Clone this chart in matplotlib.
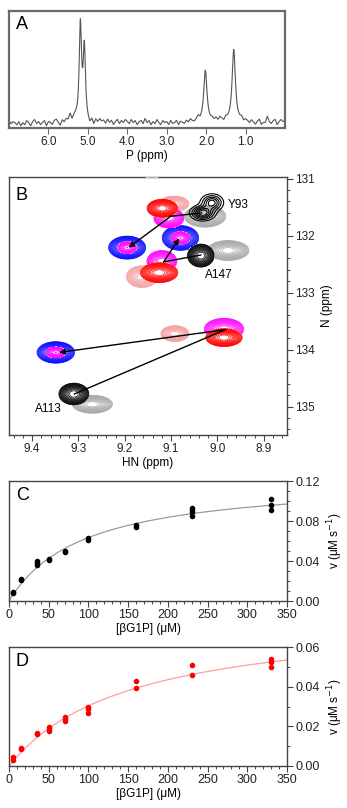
import numpy as np
import matplotlib
matplotlib.use('Agg')
import matplotlib.pyplot as plt
from matplotlib.ticker import MultipleLocator, FormatStrFormatter

plt.rcParams['font.family'] = ['Liberation Sans', 'DejaVu Sans']
plt.rcParams['font.size'] = 8.5

# ---- panel A: 1D spectrum, peaks + baseline noise (0.05 ppm steps, 7.0 -> 0.0)
p_peak_ppm = [5.19, 5.09, 2.02, 1.30]
p_peak_height = [0.92, 0.69, 0.50, 0.70]
p_peak_hwhm = [0.035, 0.035, 0.05, 0.05]
p_noise = [0.02, -0.01, 0.01, 0.00, -0.02, 0.01, -0.03, 0.00, -0.02, 0.02,
           0.00, -0.03, 0.01, 0.03, -0.01, 0.01, -0.02, 0.00, 0.02, -0.03,
           0.01, 0.00, -0.02, 0.02, 0.03, 0.00, -0.03, 0.02, 0.00, 0.03,
           0.02, 0.07, 0.01, 0.04, 0.03, 0.00, 0.00, 0.00, 0.00, 0.00,
           -0.02, -0.04, 0.01, -0.03, 0.02, 0.00, 0.03, 0.01, 0.02, -0.01,
           0.03, 0.00, 0.02, -0.02, 0.01, 0.03, -0.01, 0.02, 0.00, 0.03,
           0.01, -0.01, 0.03, 0.00, 0.02, -0.02, 0.01, 0.02, -0.01, 0.04,
           0.00, 0.02, -0.02, 0.01, -0.01, 0.03, 0.00, -0.02, 0.02, 0.00,
           0.01, -0.02, 0.02, -0.01, 0.00, 0.02, -0.02, 0.01, 0.00, -0.01,
           0.02, 0.00, 0.03, 0.01, 0.00, 0.02, 0.04, 0.00, 0.00, 0.00,
           0.00, 0.00, 0.00, 0.02, 0.01, 0.03, 0.01, 0.04, 0.02, 0.00,
           0.03, 0.01, 0.00, 0.00, 0.00, 0.00, 0.00, 0.01, 0.03, 0.00,
           0.02, 0.01, -0.01, 0.02, 0.00, -0.02, 0.01, 0.03, -0.02, 0.00,
           0.00, 0.06, 0.01, -0.01, 0.02, 0.03, -0.02, 0.01, 0.03, 0.01,
           0.02]

# ---- panel B: HSQC peaks (HN ppm, N ppm, sigma HN, sigma N, amplitude)
peaks_pink = [(9.094, 131.44, 0.0144, 0.060, 1.0),
              (9.163, 132.72, 0.0150, 0.085, 1.0),
              (9.092, 133.72, 0.0135, 0.062, 1.0)]
peaks_blue = [(9.195, 132.21, 0.0178, 0.090, 1.0),
              (9.080, 132.04, 0.0175, 0.097, 1.0),
              (9.349, 134.05, 0.0180, 0.084, 1.0)]
peaks_magenta = [(9.195, 132.21, 0.0105, 0.055, 0.5),
                 (9.080, 132.04, 0.0105, 0.058, 0.5),
                 (9.349, 134.05, 0.0108, 0.050, 0.5),
                 (9.105, 131.69, 0.0144, 0.078, 1.0),
                 (9.120, 132.45, 0.0144, 0.084, 1.0),
                 (8.986, 133.64, 0.0190, 0.084, 1.0)]
peaks_red = [(9.119, 131.52, 0.0147, 0.071, 1.0),
             (9.126, 132.65, 0.0180, 0.078, 1.0),
             (8.986, 133.79, 0.0175, 0.070, 1.0)]
peaks_gray = [(9.027, 131.66, 0.0200, 0.085, 1.0),
              (8.977, 132.26, 0.0200, 0.078, 1.0),
              (9.270, 134.96, 0.0193, 0.070, 1.0),
              (9.141, 130.86, 0.0150, 0.060, 0.6)]
peaks_black = [(9.036, 132.35, 0.0128, 0.090, 1.0),
               (9.310, 134.78, 0.0144, 0.085, 1.0)]
peaks_black_y93 = [(9.032, 131.60, 0.0140, 0.070, 1.0),
                   (9.012, 131.42, 0.0130, 0.080, 0.8)]

# arrows: start, bend, end (HN, N)
arrow_paths = [[(9.034, 131.60), (9.101, 131.66), (9.192, 132.21)],
               [(9.036, 132.34), (9.116, 132.46), (9.083, 132.05)],
               [(9.309, 134.78), (8.983, 133.65), (9.342, 134.05)]]
residue_labels = ['Y93', 'A147', 'A113']
residue_label_pos = [(8.978, 131.46), (9.026, 132.69), (9.394, 135.05)]

# ---- panels C and D: kinetics
s_c = [5, 5, 15, 15, 35, 35, 35, 50, 50, 70, 70, 100, 100, 160, 160,
       230, 230, 230, 230, 330, 330, 330]
v_c = [0.008, 0.009, 0.022, 0.0215, 0.0397, 0.038, 0.0356, 0.0424, 0.041,
       0.0504, 0.0494, 0.0635, 0.061, 0.0763, 0.0736,
       0.0928, 0.0908, 0.0887, 0.0854, 0.1018, 0.0958, 0.0911]
vmax_c, km_c = 0.123, 94.0

s_d = [5, 5, 15, 15, 35, 35, 50, 50, 50, 70, 70, 70, 100, 100, 100,
       160, 160, 230, 230, 330, 330, 330]
v_d = [0.0044, 0.003, 0.0091, 0.0084, 0.0161, 0.0164, 0.0195, 0.0185, 0.0175,
       0.0249, 0.0235, 0.0225, 0.0299, 0.0287, 0.0269,
       0.0427, 0.0392, 0.0509, 0.0457, 0.0539, 0.0523, 0.0497]
vmax_d, km_d = 0.0768, 153.0

W, H = 347, 808
fig = plt.figure(figsize=(W / 100, H / 100), dpi=100)


def px_axes(l, t, r, b):
    return fig.add_axes([l / W, 1 - b / H, (r - l) / W, (b - t) / H])


def style_ticks(ax, color):
    ax.tick_params(which='both', direction='out', colors=color, labelcolor='#222222', pad=2)
    ax.tick_params(which='major', length=4, width=0.8)
    ax.tick_params(which='minor', length=2.5, width=0.7)
    ax.tick_params(labelsize=8.5)


# ---------------- A
axA = px_axes(9, 11, 285, 128)
ppm = np.linspace(7.0, 0.0, 1401)
noise_ppm = np.linspace(7.0, 0.0, len(p_noise))
spec = np.interp(ppm[::-1], noise_ppm[::-1], p_noise[::-1])[::-1]
for c, h, g in zip(p_peak_ppm, p_peak_height, p_peak_hwhm):
    spec = spec + h / (1 + ((ppm - c) / g) ** 2)
axA.plot(ppm, spec, color='#555555', lw=0.8)
axA.set_xlim(7.0, 0.0)
axA.set_ylim(-0.05, 1.07)
axA.set_yticks([])
axA.set_xticks([6, 5, 4, 3, 2, 1])
axA.xaxis.set_major_formatter(FormatStrFormatter('%.1f'))
for s in axA.spines.values():
    s.set_color('#6a6a6a')
    s.set_linewidth(1.6)
style_ticks(axA, '#6a6a6a')
axA.set_xlabel('P (ppm)', labelpad=1)
axA.text(0.025, 0.955, 'A', transform=axA.transAxes, fontsize=13, ha='left', va='top')

# ---------------- B
axB = px_axes(9, 177, 287, 435)
hn = np.linspace(8.84, 9.46, 520)
nn = np.linspace(130.6, 135.6, 800)
HN, NN = np.meshgrid(hn, nn)


def peak_field(peaks):
    z = np.zeros_like(HN)
    for h0, n0, sh, sn, a in peaks:
        z += a * np.exp(-0.5 * ((HN - h0) / sh) ** 2 - 0.5 * ((NN - n0) / sn) ** 2)
    return z


levels = 0.08 * 1.18 ** np.arange(15)
zo = 1
for peaks, col in [(peaks_pink, '#f5a3a3'), (peaks_blue, '#0000ff'),
                   (peaks_magenta, '#ff00ff'), (peaks_red, '#ff0000'),
                   (peaks_gray, '#a8a8a8'), (peaks_black, '#000000')]:
    z = peak_field(peaks)
    axB.contourf(HN, NN, z, levels=[levels[0], 100], colors='white', zorder=zo)
    axB.contour(HN, NN, z, levels=levels, colors=col, linewidths=0.5, zorder=zo + 0.5)
    zo += 1
z = peak_field(peaks_black_y93)
axB.contour(HN, NN, z, levels=[0.12, 0.25, 0.4, 0.55, 0.7, 0.85], colors='black',
            linewidths=0.8, zorder=zo)
zo += 1

for path in arrow_paths:
    (x0, y0), (x1, y1), (x2, y2) = path
    axB.plot([x0, x1], [y0, y1], color='black', lw=1.0, zorder=zo)
    axB.annotate('', xy=(x2, y2), xytext=(x1, y1), zorder=zo,
                 arrowprops=dict(arrowstyle='-|>', color='black', lw=1.0,
                                 mutation_scale=8, shrinkA=0, shrinkB=0))
for lab, (x, y) in zip(residue_labels, residue_label_pos):
    axB.text(x, y, lab, ha='left', va='center', fontsize=8.5, zorder=zo)

axB.set_xlim(9.45, 8.85)
axB.set_ylim(135.5, 130.97)
axB.xaxis.set_major_locator(MultipleLocator(0.1))
axB.xaxis.set_minor_locator(MultipleLocator(0.02))
axB.xaxis.set_major_formatter(FormatStrFormatter('%.1f'))
axB.yaxis.set_major_locator(MultipleLocator(1))
axB.yaxis.set_minor_locator(MultipleLocator(0.2))
axB.yaxis.set_major_formatter(FormatStrFormatter('%d'))
axB.yaxis.tick_right()
axB.yaxis.set_label_position('right')
for s in axB.spines.values():
    s.set_color('#444444')
    s.set_linewidth(1.0)
style_ticks(axB, '#444444')
axB.set_xlabel('HN (ppm)', labelpad=1)
axB.set_ylabel('N (ppm)', labelpad=4)
axB.text(0.025, 0.96, 'B', transform=axB.transAxes, fontsize=13, ha='left', va='top', zorder=zo)


# ---------------- C and D
def kinetics(ax, s, v, vmax, km, col, fitcol, ymax, ymajor, letter):
    sx = np.linspace(0, 350, 300)
    ax.plot(sx, vmax * sx / (km + sx), color=fitcol, lw=0.9, zorder=1)
    ax.plot(s, v, 'o', color=col, ms=3, mec=col, zorder=2)
    ax.set_xlim(0, 350)
    ax.set_ylim(0, ymax)
    ax.xaxis.set_major_locator(MultipleLocator(50))
    ax.xaxis.set_minor_locator(MultipleLocator(10))
    ax.yaxis.set_major_locator(MultipleLocator(ymajor))
    ax.yaxis.set_minor_locator(MultipleLocator(0.01))
    ax.yaxis.set_major_formatter(FormatStrFormatter('%.2f'))
    ax.yaxis.tick_right()
    ax.yaxis.set_label_position('right')
    for sp in ax.spines.values():
        sp.set_color('#444444')
        sp.set_linewidth(1.0)
    style_ticks(ax, '#444444')
    ax.tick_params(axis='y', labelsize=9)
    ax.tick_params(axis='x', labelsize=9)
    ax.set_xlabel('[\u03b2G1P] (\u03bcM)', labelpad=1, fontsize=8.5)
    ax.set_ylabel('v (\u03bcM s$^{-1}$)', labelpad=4, fontsize=8.5)
    ax.text(0.025, 0.95, letter, transform=ax.transAxes, fontsize=13, ha='left', va='top')


axC = px_axes(9, 481, 287, 601)
kinetics(axC, s_c, v_c, vmax_c, km_c, 'black', '#9a9a9a', 0.12, 0.04, 'C')
axD = px_axes(9, 647, 287, 766)
kinetics(axD, s_d, v_d, vmax_d, km_d, '#ff0000', '#ff9c9c', 0.06, 0.02, 'D')

fig.savefig('out.png', dpi=100)
